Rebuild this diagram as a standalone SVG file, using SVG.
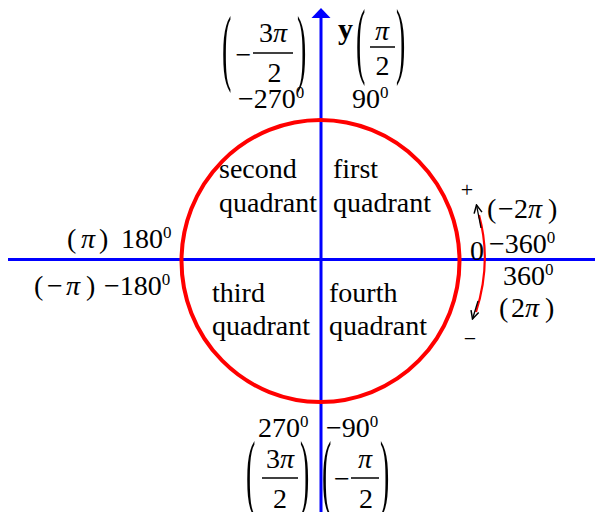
<svg xmlns="http://www.w3.org/2000/svg" width="595" height="512" viewBox="0 0 595 512">
<defs>
<style>
text{font-family:"Liberation Serif","Times New Roman",serif;fill:#000}
.q{font-size:28px}
.m{font-size:28px}
.i{font-style:italic}
.s{font-size:17px}
.axis{stroke:#0000ff;stroke-width:3;fill:none}
.bar{stroke:#000;stroke-width:1.5}
</style>
<marker id="ah" markerWidth="10" markerHeight="10" refX="9" refY="5" orient="auto" markerUnits="userSpaceOnUse">
<path d="M1,1 L9,5 L1,9" fill="none" stroke="#000" stroke-width="1.5"/>
</marker>
</defs>
<rect width="595" height="512" fill="#fff"/>
<g id="connectors">
<line class="axis" x1="8" y1="259.5" x2="595" y2="259.5"/>
<line class="axis" x1="321" y1="512" x2="321" y2="16"/>
<polygon points="321,8 311.5,18 330.5,18" fill="#0000ff"/>
<path d="M479,215 Q492,262 476,312" fill="none" stroke="#ff0000" stroke-width="2.2"/>
<line x1="481" y1="228" x2="476.5" y2="205" stroke="#000" stroke-width="1.3" marker-end="url(#ah)"/>
<line x1="478" y1="301" x2="472.5" y2="319" stroke="#000" stroke-width="1.3" marker-end="url(#ah)"/>
</g>
<g id="circle">
<ellipse cx="320.5" cy="261" rx="139" ry="141" fill="none" stroke="#ff0000" stroke-width="4"/>
</g>
<g id="quadrants">
<text class="q" x="219" y="178">second</text>
<text class="q" x="219" y="212">quadrant</text>
<text class="q" x="333" y="178">first</text>
<text class="q" x="333" y="212">quadrant</text>
<text class="q" x="212" y="302">third</text>
<text class="q" x="212" y="335">quadrant</text>
<text class="q" x="329" y="302">fourth</text>
<text class="q" x="329" y="335">quadrant</text>
</g>
<g id="label-top-left">
<text class="m" transform="translate(222,75) scale(1,3.05)">(</text>
<text class="m" x="243.5" y="64" text-anchor="middle">−</text>
<text class="m" x="273" y="42" text-anchor="middle">3<tspan class="i">π</tspan></text>
<line class="bar" x1="253" y1="53" x2="293" y2="53"/>
<text class="m" x="274.5" y="82" text-anchor="middle">2</text>
<text class="m" transform="translate(297,75) scale(1,3.05)">)</text>
<text class="m" x="238" y="108">−270<tspan class="s" dy="-10">0</tspan></text>
</g>
<g id="label-top-right">
<text font-size="30" font-weight="bold" x="338" y="39">y</text>
<text class="m" transform="translate(356,68) scale(1,3.05)">(</text>
<text class="m i" x="382" y="40" text-anchor="middle">π</text>
<line class="bar" x1="370" y1="47" x2="395" y2="47"/>
<text class="m" x="382.5" y="75" text-anchor="middle">2</text>
<text class="m" transform="translate(396,68) scale(1,3.05)">)</text>
<text class="m" x="352" y="108">90<tspan class="s" dy="-10">0</tspan></text>
</g>
<g id="label-left">
<text class="m" y="248"><tspan x="67">(</tspan><tspan class="i" x="81">π</tspan><tspan x="99">)</tspan><tspan x="121">180</tspan><tspan class="s" dy="-10">0</tspan></text>
<text class="m" y="295"><tspan x="34">(</tspan><tspan x="47">−</tspan><tspan class="i" x="66">π</tspan><tspan x="86">)</tspan><tspan x="104">−180</tspan><tspan class="s" dy="-10">0</tspan></text>
</g>
<g id="label-right">
<text font-size="22" x="467" y="197" text-anchor="middle">+</text>
<text font-size="22" x="470" y="346" text-anchor="middle">−</text>
<text class="m" x="470" y="260">0</text>
<text class="m" y="218"><tspan x="487">(</tspan><tspan x="498">−</tspan><tspan x="514">2</tspan><tspan class="i" x="528">π</tspan><tspan x="548">)</tspan></text>
<text class="m" x="489" y="253">−360<tspan class="s" dy="-10">0</tspan></text>
<text class="m" x="503" y="285">360<tspan class="s" dy="-10">0</tspan></text>
<text class="m" y="317"><tspan x="499">(</tspan><tspan x="511">2</tspan><tspan class="i" x="525">π</tspan><tspan x="545">)</tspan></text>
</g>
<g id="label-bottom">
<text class="m" x="258" y="437">270<tspan class="s" dy="-10">0</tspan></text>
<text class="m" x="326" y="437">−90<tspan class="s" dy="-10">0</tspan></text>
<text class="m" transform="translate(246,500) scale(1,3.05)">(</text>
<text class="m" x="280" y="468" text-anchor="middle">3<tspan class="i">π</tspan></text>
<line class="bar" x1="262" y1="478" x2="298" y2="478"/>
<text class="m" x="280" y="508" text-anchor="middle">2</text>
<text class="m" transform="translate(300,500) scale(1,3.05)">)</text>
<text class="m" transform="translate(322,500) scale(1,3.05)">(</text>
<text class="m" x="342" y="488" text-anchor="middle">−</text>
<text class="m i" x="365" y="468" text-anchor="middle">π</text>
<line class="bar" x1="351" y1="478" x2="379" y2="478"/>
<text class="m" x="366" y="508" text-anchor="middle">2</text>
<text class="m" transform="translate(380,500) scale(1,3.05)">)</text>
</g>
</svg>
